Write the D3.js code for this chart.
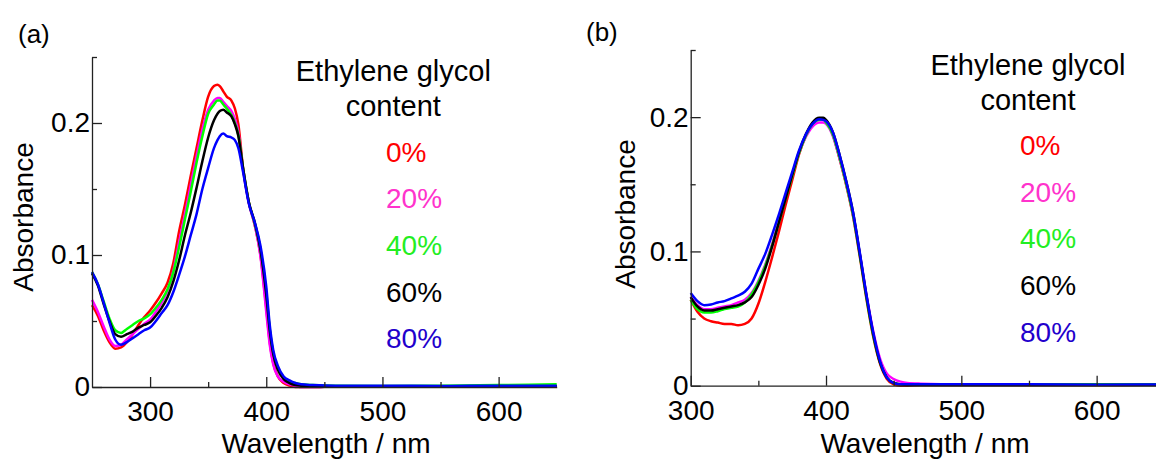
<!DOCTYPE html>
<html>
<head>
<meta charset="utf-8">
<script src="https://cdn.jsdelivr.net/npm/d3@7"></script>
<style>
    body { margin: 0; background: #fff; }
    svg text { font-family: "Liberation Sans", Arial, sans-serif; }
</style>
</head>
<body>
<svg id="chart" width="1156" height="459"></svg>
<script>
// Ethylene glycol content of each trace
const contentLabels = ['0%', '20%', '40%', '60%', '80%']

// (a) wavelengths, nm
const wavelengthsA = [250, 255, 260, 265, 270, 275, 280, 285, 290, 295,
    300, 305, 310, 315, 320, 325, 330, 335, 340, 345,
    350, 355, 358, 360, 363, 366, 370, 373, 376, 380,
    385, 390, 395, 400, 403, 406, 410, 415, 420, 425, 430,
    440, 460, 500, 550, 600, 650]

const absA0 = [0.062, 0.054, 0.043, 0.034, 0.029, 0.030, 0.034, 0.040, 0.047, 0.053,
    0.058, 0.064, 0.071, 0.079, 0.094, 0.118, 0.138, 0.160, 0.181, 0.202,
    0.220, 0.228, 0.229, 0.228, 0.224, 0.220, 0.217, 0.211, 0.199, 0.166,
    0.140, 0.123, 0.100, 0.060, 0.034, 0.018, 0.008, 0.003, 0.001, 0, 0,
    0, 0.0005, 0.0005, 0.0005, 0.0005, 0.0005]
const absA20 = [0.066, 0.057, 0.046, 0.036, 0.031, 0.032, 0.036, 0.040, 0.044, 0.048,
    0.051, 0.057, 0.064, 0.073, 0.088, 0.110, 0.131, 0.153, 0.175, 0.195,
    0.210, 0.217, 0.219, 0.219, 0.216, 0.213, 0.209, 0.203, 0.193, 0.165,
    0.139, 0.123, 0.099, 0.057, 0.032, 0.017, 0.008, 0.004, 0.002, 0.001, 0,
    0, 0.0005, 0.0005, 0.0005, 0.0005, 0.0005]
const absA40 = [0.087, 0.078, 0.065, 0.052, 0.043, 0.041, 0.044, 0.047, 0.050, 0.052,
    0.055, 0.060, 0.066, 0.074, 0.087, 0.106, 0.127, 0.148, 0.170, 0.190,
    0.207, 0.214, 0.217, 0.217, 0.214, 0.211, 0.206, 0.200, 0.191, 0.166,
    0.140, 0.124, 0.104, 0.072, 0.044, 0.026, 0.014, 0.007, 0.004, 0.003, 0.002,
    0.0015, 0.001, 0.0008, 0.001, 0.0015, 0.002]
const absA60 = [0.086, 0.077, 0.063, 0.050, 0.040, 0.038, 0.040, 0.042, 0.045, 0.047,
    0.049, 0.054, 0.060, 0.068, 0.080, 0.096, 0.115, 0.132, 0.151, 0.171,
    0.189, 0.202, 0.207, 0.209, 0.210, 0.208, 0.205, 0.199, 0.190, 0.166,
    0.140, 0.125, 0.104, 0.070, 0.043, 0.025, 0.013, 0.006, 0.003, 0.0015, 0.001,
    0.0005, 0.0005, 0.0005, 0.0005, 0.0005, 0.0005]
const absA80 = [0.087, 0.078, 0.064, 0.049, 0.036, 0.032, 0.034, 0.037, 0.040, 0.043,
    0.045, 0.050, 0.056, 0.062, 0.072, 0.085, 0.099, 0.115, 0.131, 0.150,
    0.166, 0.181, 0.187, 0.190, 0.192, 0.190, 0.189, 0.187, 0.181, 0.163,
    0.139, 0.125, 0.107, 0.076, 0.047, 0.028, 0.016, 0.008, 0.005, 0.003, 0.002,
    0.0015, 0.001, 0.001, 0.0008, 0.001, 0.001]

// (b) wavelengths, nm
const wavelengthsB = [300, 305, 310, 315, 320, 325, 330, 335, 340, 345,
    350, 355, 360, 365, 370, 375, 380, 385, 390, 395,
    398, 400, 405, 410, 415, 420, 425, 430, 435, 440,
    445, 450, 455, 460, 470, 500, 550, 600, 650]

const absB0 = [0.064, 0.055, 0.050, 0.048, 0.047, 0.046, 0.046, 0.045, 0.046, 0.050,
    0.061, 0.077, 0.095, 0.114, 0.134, 0.153, 0.172, 0.186, 0.195, 0.199,
    0.1985, 0.197, 0.187, 0.169, 0.149, 0.126, 0.096, 0.064, 0.036, 0.016,
    0.005, 0.001, 0, 0, 0.0005, 0.0005, 0.0005, 0.0005, 0.001]
const absB20 = [0.066, 0.060, 0.057, 0.057, 0.058, 0.059, 0.060, 0.062, 0.064, 0.069,
    0.078, 0.090, 0.105, 0.122, 0.140, 0.157, 0.173, 0.185, 0.193, 0.196,
    0.196, 0.195, 0.186, 0.169, 0.150, 0.127, 0.098, 0.067, 0.040, 0.020,
    0.009, 0.005, 0.003, 0.002, 0.0015, 0.001, 0.001, 0.001, 0.001]
const absB40 = [0.064, 0.057, 0.0545, 0.0545, 0.0555, 0.057, 0.058, 0.059, 0.062, 0.068,
    0.077, 0.089, 0.104, 0.121, 0.139, 0.156, 0.173, 0.186, 0.195, 0.198,
    0.198, 0.196, 0.187, 0.170, 0.150, 0.127, 0.097, 0.065, 0.037, 0.017,
    0.006, 0.002, 0.001, 0.001, 0.001, 0.0008, 0.001, 0.001, 0.001]
const absB60 = [0.066, 0.059, 0.056, 0.056, 0.057, 0.058, 0.059, 0.060, 0.062, 0.066,
    0.075, 0.087, 0.103, 0.121, 0.139, 0.157, 0.174, 0.187, 0.196, 0.1995,
    0.1995, 0.198, 0.189, 0.172, 0.152, 0.129, 0.098, 0.066, 0.038, 0.017,
    0.006, 0.002, 0.001, 0.0005, 0.0005, 0.0005, 0.0005, 0.0005, 0.0005]
const absB80 = [0.069, 0.063, 0.060, 0.0605, 0.062, 0.063, 0.065, 0.067, 0.070, 0.076,
    0.087, 0.098, 0.112, 0.127, 0.143, 0.159, 0.175, 0.187, 0.195, 0.1985,
    0.198, 0.197, 0.189, 0.172, 0.152, 0.129, 0.099, 0.067, 0.039, 0.018,
    0.006, 0.002, 0.001, 0.001, 0.001, 0.001, 0.001, 0.0008, 0.001]

const absorbanceTicks = [0, 0.1, 0.2]
const absorbanceMinor = [0.05, 0.15, 0.25]
const wavelengthTicks = [300, 400, 500, 600]
const wavelengthMinor = [350, 450, 550]

// styles
const lineColors = ['#ff0000', '#ff00ff', '#00ff00', '#000000', '#0000ff']
const labelColors = ['#ff0000', '#ff33cc', '#22ee22', '#000000', '#2200cc']
const FONT = 28

const svg = d3.select('#chart')

const drawPanel = cfg => {
    const x = d3.scaleLinear().domain(cfg.xDomain).range(cfg.xRange)
    const y = d3.scaleLinear().domain([0, 0.25]).range(cfg.yRange)
    const g = svg.append('g')

    // curves
    const line = d3.line()
        .x(d => x(d[0]))
        .y(d => y(d[1]))
        .curve(d3.curveMonotoneX)
    g.append('g')
        .selectAll('path')
        .data(cfg.series)
        .join('path')
        .attr('d', vals => line(cfg.wavelengths.map((w, i) => [w, vals[i]])))
        .attr('fill', 'none')
        .attr('stroke', (d, i) => lineColors[i])
        .attr('stroke-width', 2.5)
        .attr('stroke-linejoin', 'round')

    // axes, ticks pointing inward
    g.append('g')
        .attr('transform', `translate(0,${cfg.yRange[0]})`)
        .call(d3.axisBottom(x).tickValues(wavelengthTicks).tickSizeInner(-10).tickSizeOuter(0).tickPadding(14))
    g.append('g')
        .attr('transform', `translate(0,${cfg.yRange[0]})`)
        .call(d3.axisBottom(x).tickValues(wavelengthMinor).tickSizeInner(-5).tickSizeOuter(0).tickFormat(''))
        .select('.domain').remove()
    g.append('g')
        .attr('transform', `translate(${cfg.xRange[0]},0)`)
        .call(d3.axisLeft(y).tickValues(absorbanceTicks).tickSizeInner(-10).tickSizeOuter(0).tickPadding(2)
            .tickFormat(d => d === 0 ? '0' : d.toFixed(1)))
    g.append('g')
        .attr('transform', `translate(${cfg.xRange[0]},0)`)
        .call(d3.axisLeft(y).tickValues(absorbanceMinor).tickSizeInner(-5).tickSizeOuter(0).tickFormat(''))
        .select('.domain').remove()

    g.selectAll('.domain, .tick line').attr('stroke', '#222').attr('stroke-width', 1.3)
    g.selectAll('.tick text').attr('font-size', FONT).attr('fill', '#000').attr('font-family', null)

    // axis titles
    g.append('text')
        .attr('transform', `translate(${cfg.yTitle[0]},${cfg.yTitle[1]}) rotate(-90)`)
        .attr('text-anchor', 'middle')
        .attr('font-size', FONT)
        .text('Absorbance')
    g.append('text')
        .attr('x', cfg.xTitle[0])
        .attr('y', cfg.xTitle[1])
        .attr('text-anchor', 'middle')
        .attr('font-size', FONT)
        .text('Wavelength / nm')

    // panel letter
    g.append('text')
        .attr('x', cfg.letter[0])
        .attr('y', cfg.letter[1])
        .attr('font-size', 26)
        .text(cfg.letterText)

    // legend
    const lg = g.append('g')
    lg.selectAll('text.title')
        .data(['Ethylene glycol', 'content'])
        .join('text')
        .attr('class', 'title')
        .attr('x', cfg.legend.cx)
        .attr('y', (d, i) => cfg.legend.titleY + i * 35.3)
        .attr('text-anchor', 'middle')
        .attr('font-size', 29)
        .text(d => d)
    lg.selectAll('text.item')
        .data(contentLabels)
        .join('text')
        .attr('class', 'item')
        .attr('x', cfg.legend.left)
        .attr('y', (d, i) => cfg.legend.itemY + i * 46.65)
        .attr('font-size', FONT)
        .attr('fill', (d, i) => labelColors[i])
        .text(d => d)
}

drawPanel({
    xDomain: [250, 650], xRange: [92, 556.7], yRange: [387, 57],
    wavelengths: wavelengthsA,
    series: [absA0, absA20, absA40, absA60, absA80],
    yTitle: [33, 217], xTitle: [326, 453],
    letter: [18, 43], letterText: '(a)',
    legend: { cx: 393.3, titleY: 80.7, left: 386, itemY: 161.7 }
})

drawPanel({
    xDomain: [300, 650], xRange: [690.7, 1164.3], yRange: [385.7, 50],
    wavelengths: wavelengthsB,
    series: [absB0, absB20, absB40, absB60, absB80],
    yTitle: [635, 214], xTitle: [925, 453],
    letter: [586, 41], letterText: '(b)',
    legend: { cx: 1028, titleY: 75, left: 1020, itemY: 155 }
})
</script>
</body>
</html>
